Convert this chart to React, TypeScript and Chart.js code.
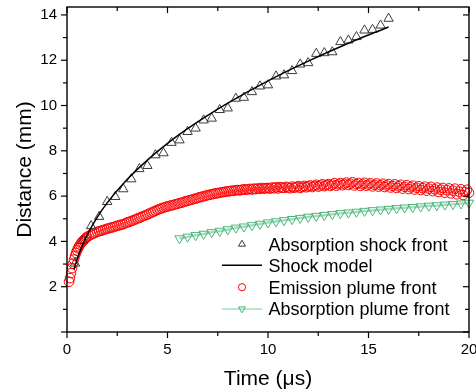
import React, { useEffect, useRef } from "react";
import { Chart, registerables } from "chart.js";

Chart.register(...registerables);

const FONT = "'Liberation Sans', Arial, sans-serif";

// Absorption shock front (open triangles)
const shockTime = [0.4, 0.8, 1.2, 1.6, 2.0, 2.4, 2.8, 3.2, 3.6, 4.0, 4.4, 4.8, 5.2, 5.6, 6.0, 6.4, 6.8, 7.2, 7.6, 8.0,
  8.4, 8.8, 9.2, 9.6, 10.0, 10.4, 10.8, 11.2, 11.6, 12.0, 12.4, 12.8, 13.2, 13.6, 14.0, 14.4, 14.8, 15.2, 15.6, 16.0];
const shockDist = [3.03, 4.03, 4.68, 5.09, 5.75, 5.97, 6.31, 6.75, 7.20, 7.34, 7.81, 7.90, 8.36, 8.47, 8.84, 8.99, 9.35, 9.43, 9.81, 9.88,
  10.31, 10.35, 10.60, 10.85, 10.90, 11.29, 11.34, 11.53, 11.82, 11.88, 12.29, 12.32, 12.36, 12.81, 12.88, 13.03, 13.32, 13.35, 13.54, 13.84];

// Shock model (solid black curve)
const modelTime = [0.35, 0.5, 0.75, 1, 1.5, 2, 3, 4, 5, 6, 7, 8, 10, 12, 14, 16];
const modelDist = [2.76, 3.21, 3.80, 4.28, 5.06, 5.70, 6.74, 7.59, 8.33, 8.98, 9.57, 10.11, 11.09, 11.96, 12.75, 13.47];

// Emission plume front (open red circles)
const emissionTime = [0.1, 0.15, 0.2, 0.25, 0.3, 0.35, 0.4, 0.45, 0.5, 0.55, 0.6, 0.65, 0.7, 0.75, 0.8, 0.85, 0.9, 0.95,
  1.0, 1.1, 1.2, 1.3, 1.4, 1.5, 1.6, 1.7, 1.8, 1.9,
  2.0, 2.1, 2.2, 2.3, 2.4, 2.5, 2.6, 2.7, 2.8, 2.9,
  3.0, 3.1, 3.2, 3.3, 3.4, 3.5, 3.6, 3.7, 3.8, 3.9,
  4.0, 4.1, 4.2, 4.3, 4.4, 4.5, 4.6, 4.7, 4.8, 4.9,
  5.0, 5.1, 5.2, 5.3, 5.4, 5.5, 5.6, 5.7, 5.8, 5.9,
  6.0, 6.1, 6.2, 6.3, 6.4, 6.5, 6.6, 6.7, 6.8, 6.9,
  7.0, 7.1, 7.2, 7.3, 7.4, 7.5, 7.6, 7.7, 7.8, 7.9,
  8.0, 8.1, 8.2, 8.3, 8.4, 8.5, 8.6, 8.7, 8.8, 8.9,
  9.0, 9.1, 9.2, 9.3, 9.4, 9.5, 9.6, 9.7, 9.8, 9.9,
  10.0, 10.1, 10.2, 10.3, 10.4, 10.5, 10.6, 10.7, 10.8, 10.9,
  11.0, 11.1, 11.2, 11.3, 11.4, 11.5, 11.6, 11.7, 11.8, 11.9,
  12.0, 12.1, 12.2, 12.3, 12.4, 12.5, 12.6, 12.7, 12.8, 12.9,
  13.0, 13.1, 13.2, 13.3, 13.4, 13.5, 13.6, 13.7, 13.8, 13.9,
  14.0, 14.1, 14.2, 14.3, 14.4, 14.5, 14.6, 14.7, 14.8, 14.9,
  15.0, 15.1, 15.2, 15.3, 15.4, 15.5, 15.6, 15.7, 15.8, 15.9,
  16.0, 16.1, 16.2, 16.3, 16.4, 16.5, 16.6, 16.7, 16.8, 16.9,
  17.0, 17.1, 17.2, 17.3, 17.4, 17.5, 17.6, 17.7, 17.8, 17.9,
  18.0, 18.1, 18.2, 18.3, 18.4, 18.5, 18.6, 18.7, 18.8, 18.9,
  19.0, 19.1, 19.2, 19.3, 19.4, 19.5, 19.6, 19.7, 19.8, 19.9,
  20.0];
const emissionDist = [2.22, 2.38, 2.60, 2.82, 3.02, 3.20, 3.36, 3.49, 3.60, 3.70, 3.78, 3.86, 3.92, 3.98, 4.03, 4.08, 4.12, 4.16,
  4.20, 4.25, 4.30, 4.34, 4.38, 4.42, 4.45, 4.47, 4.50, 4.53,
  4.56, 4.58, 4.61, 4.63, 4.66, 4.69, 4.71, 4.74, 4.76, 4.80,
  4.84, 4.86, 4.90, 4.93, 4.97, 5.01, 5.04, 5.08, 5.12, 5.15,
  5.19, 5.23, 5.27, 5.31, 5.35, 5.39, 5.43, 5.46, 5.49, 5.52,
  5.54, 5.57, 5.59, 5.61, 5.64, 5.66, 5.69, 5.71, 5.74, 5.77,
  5.79, 5.82, 5.84, 5.87, 5.89, 5.92, 5.95, 5.97, 5.99, 6.02,
  6.04, 6.06, 6.08, 6.10, 6.12, 6.13, 6.15, 6.17, 6.18, 6.20,
  6.21, 6.22, 6.24, 6.23, 6.26, 6.27, 6.25, 6.28, 6.30, 6.28,
  6.30, 6.32, 6.29, 6.33, 6.31, 6.34, 6.32, 6.36, 6.33, 6.35,
  6.36, 6.33, 6.38, 6.35, 6.39, 6.34, 6.40, 6.37, 6.36, 6.41,
  6.38, 6.35, 6.42, 6.37, 6.40, 6.44, 6.36, 6.41, 6.45, 6.39,
  6.43, 6.47, 6.40, 6.45, 6.50, 6.42, 6.47, 6.52, 6.44, 6.49,
  6.53, 6.45, 6.50, 6.57, 6.46, 6.52, 6.58, 6.48, 6.54, 6.60,
  6.49, 6.55, 6.61, 6.47, 6.53, 6.58, 6.45, 6.52, 6.59, 6.46,
  6.51, 6.57, 6.43, 6.50, 6.56, 6.42, 6.48, 6.55, 6.40, 6.47,
  6.53, 6.38, 6.45, 6.52, 6.36, 6.43, 6.50, 6.33, 6.41, 6.48,
  6.31, 6.39, 6.46, 6.29, 6.37, 6.44, 6.27, 6.35, 6.42, 6.24,
  6.33, 6.41, 6.22, 6.30, 6.38, 6.18, 6.28, 6.36, 6.15, 6.26,
  6.34, 6.12, 6.24, 6.33, 6.08, 6.20, 6.30, 6.05, 6.18, 6.28,
  6.15];

// Absorption plume front (green down triangles + line)
const plumeTime = [5.6, 6.0, 6.4, 6.8, 7.2, 7.6, 8.0, 8.4, 8.8, 9.2, 9.6, 10.0, 10.4, 10.8, 11.2, 11.6, 12.0, 12.4, 12.8,
  13.2, 13.6, 14.0, 14.4, 14.8, 15.2, 15.6, 16.0, 16.4, 16.8, 17.2, 17.6, 18.0, 18.4, 18.8, 19.2, 19.6, 20.0];
const plumeDist = [4.13, 4.20, 4.27, 4.33, 4.40, 4.46, 4.53, 4.60, 4.65, 4.71, 4.77, 4.83, 4.88, 4.93, 4.98, 5.03, 5.08, 5.12, 5.16,
  5.20, 5.24, 5.27, 5.30, 5.34, 5.37, 5.40, 5.43, 5.46, 5.49, 5.51, 5.54, 5.57, 5.59, 5.62, 5.64, 5.67, 5.70];

const legendLabels = ["Absorption shock front", "Shock model", "Emission plume front", "Absorption plume front"];

const xTitle = "Time (\u03bcs)";
const yTitle = "Distance (mm)";

const SHOCK_COLOR = "#3c3c3c";
const RED = "#ff0000";
const GREEN_MARK = "#4db57a";
const GREEN_LINE = "#a6dcbd";

function pts(xs: number[], ys: number[]) {
  return xs.map((x, i) => ({ x, y: ys[i] }));
}

function triangle(ctx: CanvasRenderingContext2D, x: number, y: number, r: number, down: boolean) {
  const s = down ? -1 : 1;
  ctx.beginPath();
  ctx.moveTo(x, y - s * r);
  ctx.lineTo(x + r * Math.sin((2 * Math.PI) / 3), y + s * r / 2);
  ctx.lineTo(x - r * Math.sin((2 * Math.PI) / 3), y + s * r / 2);
  ctx.closePath();
  ctx.stroke();
}

export default function App() {
  const ref = useRef<HTMLCanvasElement>(null);

  useEffect(() => {
    const canvas = ref.current;
    if (!canvas) return;

    const framePlugin = {
      id: "frameTicks",
      afterDatasetsDraw(chart: any) {
        const ctx = chart.ctx as CanvasRenderingContext2D;
        const { left, right, top, bottom } = chart.chartArea;
        const xs = chart.scales.x;
        const ys = chart.scales.y;
        ctx.save();
        ctx.strokeStyle = "#000";
        ctx.lineWidth = 1.4;
        ctx.strokeRect(left, top, right - left, bottom - top);
        ctx.lineWidth = 1.2;
        const seg = (x1: number, y1: number, x2: number, y2: number) => {
          ctx.beginPath();
          ctx.moveTo(x1, y1);
          ctx.lineTo(x2, y2);
          ctx.stroke();
        };
        const MAJ = 6, MIN = 4;
        const xv = xs.ticks.map((t: any) => t.value);
        xv.forEach((v: number, i: number) => {
          const p = xs.getPixelForValue(v);
          seg(p, bottom, p, bottom + MAJ);
          seg(p, top, p, top + MAJ);
          if (i < xv.length - 1) {
            const m = xs.getPixelForValue((v + xv[i + 1]) / 2);
            seg(m, bottom, m, bottom + MIN);
            seg(m, top, m, top + MIN);
          }
        });
        const yv = ys.ticks.map((t: any) => t.value);
        yv.forEach((v: number, i: number) => {
          const p = ys.getPixelForValue(v);
          seg(left - MAJ, p, left, p);
          seg(right - MAJ, p, right, p);
          if (i < yv.length - 1) {
            const m = ys.getPixelForValue((v + yv[i + 1]) / 2);
            seg(left - MIN, m, left, m);
            seg(right - MIN, m, right, m);
          }
        });
        ctx.restore();
      },
      afterDraw(chart: any) {
        const ctx = chart.ctx as CanvasRenderingContext2D;
        const { right, bottom } = chart.chartArea;
        const textX = right - 200.5;
        const symX = right - 227;
        const lineX1 = right - 247;
        const lineX2 = right - 207;
        const rowBase = [bottom - 81.5, bottom - 60.5, bottom - 38.5, bottom - 16.8];
        ctx.save();
        ctx.font = `18px ${FONT}`;
        ctx.fillStyle = "#000";
        ctx.textAlign = "left";
        ctx.textBaseline = "alphabetic";
        legendLabels.forEach((lab, i) => {
          ctx.fillText(lab, textX, rowBase[i]);
        });
        const mid = (i: number) => rowBase[i] - 6.3;
        ctx.lineWidth = 1;
        ctx.strokeStyle = SHOCK_COLOR;
        triangle(ctx, symX, mid(0), 4, false);
        ctx.strokeStyle = "#000";
        ctx.lineWidth = 1.5;
        ctx.beginPath();
        ctx.moveTo(lineX1, mid(1));
        ctx.lineTo(lineX2, mid(1));
        ctx.stroke();
        ctx.strokeStyle = RED;
        ctx.lineWidth = 1;
        ctx.beginPath();
        ctx.arc(symX, mid(2), 3.6, 0, Math.PI * 2);
        ctx.stroke();
        ctx.strokeStyle = GREEN_LINE;
        ctx.lineWidth = 1.5;
        ctx.beginPath();
        ctx.moveTo(lineX1, mid(3));
        ctx.lineTo(lineX2, mid(3));
        ctx.stroke();
        ctx.strokeStyle = GREEN_MARK;
        ctx.lineWidth = 1;
        triangle(ctx, symX, mid(3), 4, true);
        ctx.restore();
      },
    };

    const chart = new Chart(canvas, {
      type: "scatter",
      data: {
        datasets: [
          {
            label: legendLabels[1],
            data: pts(modelTime, modelDist),
            showLine: true,
            borderColor: "#000",
            borderWidth: 1.5,
            pointRadius: 0,
            cubicInterpolationMode: "monotone",
            fill: false,
            order: 0,
            clip: false,
          },
          {
            label: legendLabels[0],
            data: pts(shockTime, shockDist),
            showLine: false,
            pointStyle: "triangle",
            pointRadius: 5.4,
            pointBorderColor: SHOCK_COLOR,
            pointBackgroundColor: "rgba(0,0,0,0)",
            pointBorderWidth: 1,
            order: 1,
            clip: false,
          },
          {
            label: legendLabels[2],
            data: pts(emissionTime, emissionDist),
            showLine: false,
            pointStyle: "circle",
            pointRadius: 4.8,
            pointBorderColor: RED,
            pointBackgroundColor: "rgba(0,0,0,0)",
            pointBorderWidth: 1,
            order: 2,
            clip: false,
          },
          {
            label: legendLabels[3],
            data: pts(plumeTime, plumeDist),
            showLine: true,
            borderColor: GREEN_LINE,
            borderWidth: 2.5,
            pointStyle: "triangle",
            rotation: 180,
            pointRadius: 5.4,
            pointBorderColor: GREEN_MARK,
            pointBackgroundColor: "rgba(0,0,0,0)",
            pointBorderWidth: 1,
            order: 3,
            clip: false,
          },
        ] as any,
      },
      options: {
        animation: false,
        responsive: false,
        devicePixelRatio: 1,
        layout: { padding: { top: 7, right: 7, left: 0, bottom: 0 } },
        plugins: {
          legend: { display: false },
          tooltip: { enabled: false },
        },
        scales: {
          x: {
            type: "linear",
            min: 0,
            max: 20,
            grid: { display: false, drawTicks: false },
            border: { display: false },
            ticks: {
              stepSize: 5,
              padding: 9,
              includeBounds: false,
              maxRotation: 0,
              color: "#000",
              font: { family: FONT, size: 15 },
            },
            title: {
              display: true,
              text: xTitle,
              color: "#000",
              font: { family: FONT, size: 21 },
              padding: { top: 0, bottom: 0 },
            },
            afterFit(s: any) {
              s.height = 60;
              s.paddingLeft = 0;
              s.paddingRight = 0;
            },
          },
          y: {
            type: "linear",
            min: 0,
            max: 14.35,
            grid: { display: false, drawTicks: false },
            border: { display: false },
            ticks: {
              stepSize: 2,
              padding: 10,
              includeBounds: false,
              color: "#000",
              font: { family: FONT, size: 15 },
              callback: (v: any) => (v === 0 ? "" : String(v)),
            },
            title: {
              display: true,
              text: yTitle,
              color: "#000",
              font: { family: FONT, size: 21 },
              padding: { top: 13, bottom: 0 },
            },
            afterFit(s: any) {
              s.width = 67;
              s.paddingTop = 0;
              s.paddingBottom = 0;
            },
          },
        },
      } as any,
      plugins: [framePlugin],
    });

    return () => chart.destroy();
  }, []);

  return (
    <div style={{ position: "fixed", left: 0, top: 0, width: 476, height: 392, background: "#fff" }}>
      <canvas ref={ref} width={476} height={392} style={{ display: "block", width: 476, height: 392 }} />
    </div>
  );
}
